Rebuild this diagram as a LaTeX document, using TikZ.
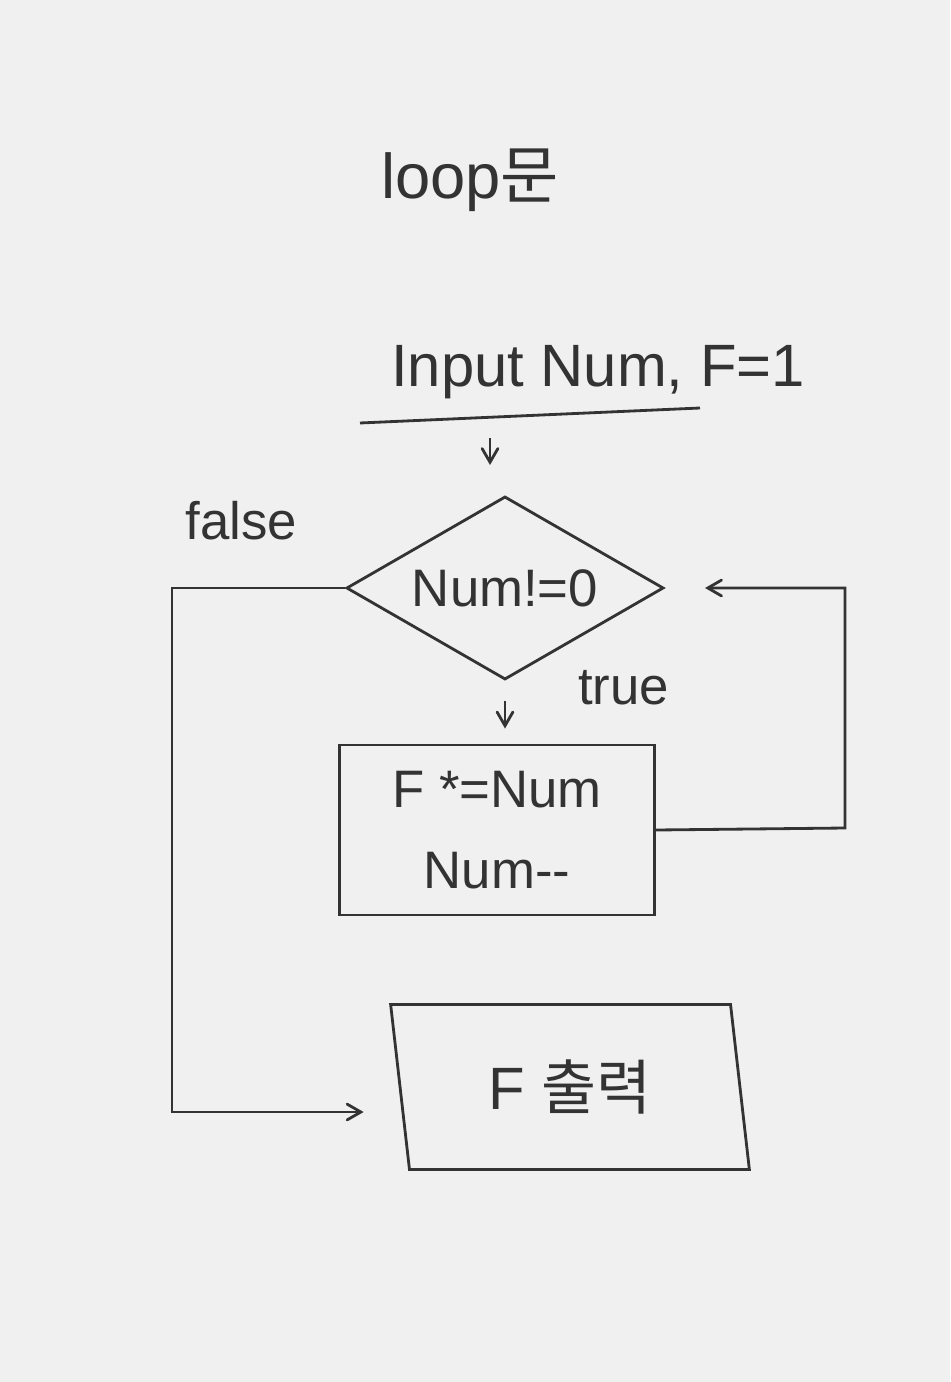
\documentclass[tikz,border=0pt]{standalone}
\usepackage{fontspec}
\setmainfont{Liberation Sans}
\newfontfamily\kor{Noto Sans CJK KR}
\usetikzlibrary{arrows,shapes.geometric}

\tikzset{
  decision/.style={diamond, draw, aspect=1.73, minimum width=3.17cm, minimum height=1.83cm,
                   inner sep=0pt, font=\fontsize{15}{18}\selectfont},
  process/.style={rectangle, draw, minimum width=3.15cm, minimum height=1.7cm,
                  align=center, font=\fontsize{15}{23}\selectfont},
  output/.style={trapezium, trapezium left angle=98, trapezium right angle=82,
                 trapezium stretches=true, draw, minimum width=3.6cm,
                 minimum height=1.65cm, font=\fontsize{17}{20}\selectfont},
  lbl/.style={font=\fontsize{15}{18}\selectfont}
}

\begin{document}
\begin{tikzpicture}[x=0.01cm,y=-0.01cm,line width=0.8pt,color=black!80,>=angle 60]

        \fill[gray!12] (0,0) rectangle (950,1382);
        \useasboundingbox (0,0) rectangle (950,1382);

        \node (title) at (470,180)  {\fontsize{18}{20}\selectfont loop\kor{문}};
        \node (input) at (598,372)  {\fontsize{17}{20}\selectfont Input Num, F=1};
        \coordinate (ulL) at (360,423);
        \coordinate (ulR) at (700,408);
        \coordinate (ulA) at (490,418);

        \node[decision] (cond) at (505,588)  {Num!=0};
        \node[process]  (body) at (497,830)  {F *=Num\\Num{-}{-}};
        \node[output]   (out)  at (570,1087) {F \kor{출력}};

        \coordinate (fcorner) at (172,1112);
        \coordinate (lcorner) at (845,828);

        \draw (ulL) -- (ulR);
        \draw[->, shorten <=0.2cm, shorten >=0.3cm] (ulA) -- (ulA |- cond.north);

        \draw[->, shorten <=0.2cm, shorten >=0.15cm]
                  (cond.south) -- (cond.south |- body.north)
                        node[lbl, pos=0.1, right=0.6cm] {true};
        \draw[->, shorten >=0.4cm]
                  (body.east) -- (lcorner) |- (cond.east);
        \draw[->, shorten >=0.35cm]
                  (cond.west) -| (fcorner)
                        node[lbl, pos=0.3, above=0.35cm] {false}
                  -- (fcorner -| out.west);
\end{tikzpicture}
\end{document}
